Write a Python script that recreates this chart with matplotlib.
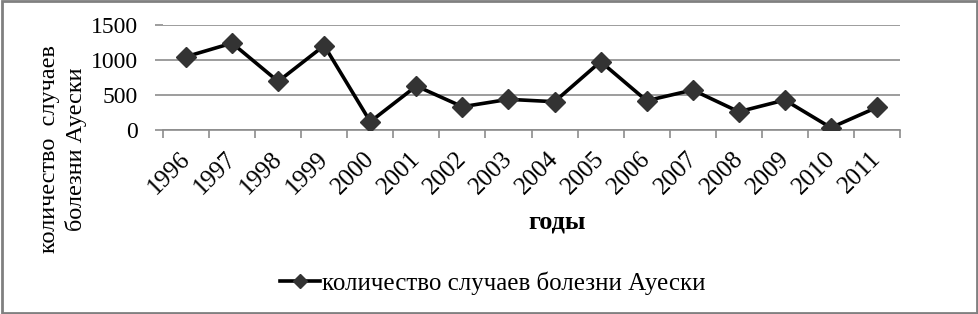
import matplotlib
matplotlib.use("Agg")
import matplotlib.pyplot as plt
from matplotlib.patches import Rectangle
from matplotlib.lines import Line2D
from matplotlib.transforms import ScaledTranslation
import numpy as np

years = ["1996", "1997", "1998", "1999", "2000", "2001", "2002", "2003",
         "2004", "2005", "2006", "2007", "2008", "2009", "2010", "2011"]
cases = [1045, 1240, 690, 1205, 112, 624, 327, 433, 399, 975, 413, 567, 255, 423, 26, 318]
yticks = [0, 500, 1000, 1500]
series_name = "количество случаев болезни Ауески"
xlabel = "годы"
ylabel = "количество  случаев\nболезни Ауески"

plt.rcParams['font.family'] = ['Liberation Serif', 'DejaVu Serif']

fig = plt.figure(figsize=(9.79, 3.14), dpi=100)
ax = fig.add_axes([163/979, 1-129.5/314, (900-163)/979, (129.5-25)/314])

x = np.arange(len(years))
ax.plot(x, cases, color='black', lw=2.6, marker='D', markersize=10,
        markerfacecolor='#333333', markeredgecolor='#333333', zorder=3)

ax.set_xlim(-0.5, len(years)-0.5)
ax.set_ylim(0, 1500)
ax.set_yticks(yticks)
ax.set_yticklabels([str(v) for v in yticks], fontsize=17)
ax.tick_params(axis='y', length=6, color='#8c8c8c', width=1.2, pad=12)
ax.grid(axis='y', color='#8c8c8c', lw=1.2, zorder=1)
ax.set_axisbelow(True)

ax.set_xticks(x)
ax.set_xticklabels(years, fontsize=18, rotation=45, ha='right', va='top', rotation_mode='anchor')
ax.tick_params(axis='x', length=0, pad=8)
shift = ScaledTranslation(-7/100, -7/100, fig.dpi_scale_trans)
for lab in ax.get_xticklabels():
    lab.set_transform(lab.get_transform() + shift)
ax.set_xticks(np.arange(len(years)+1) - 0.5, minor=True)
ax.tick_params(axis='x', which='minor', length=6, color='#8c8c8c', width=1.2)

for s in ['top', 'right', 'left']:
    ax.spines[s].set_visible(False)
ax.spines['bottom'].set_color('#8c8c8c')
ax.spines['bottom'].set_linewidth(1.2)

fig.text(557/979, 1-222/314, xlabel, fontsize=19, fontweight='bold', ha='center', va='center')
fig.text(63/979, 1-149/314, ylabel, fontsize=17.5, rotation=90, ha='center', va='center',
         multialignment='center', linespacing=1.25)

handle = Line2D([], [], color='black', lw=2.6, marker='D', markersize=7,
                markerfacecolor='#333333', markeredgecolor='#333333')
fig.legend([handle], [series_name], loc='center', bbox_to_anchor=(493/979, 1-283/314),
           frameon=False, fontsize=18, handlelength=1.6, handletextpad=0.1)

fig.patches.append(Rectangle((0.002, 0.004), 0.996, 0.992, transform=fig.transFigure,
                             fill=False, edgecolor='#808080', lw=2))

fig.savefig("out.png", dpi=100)
